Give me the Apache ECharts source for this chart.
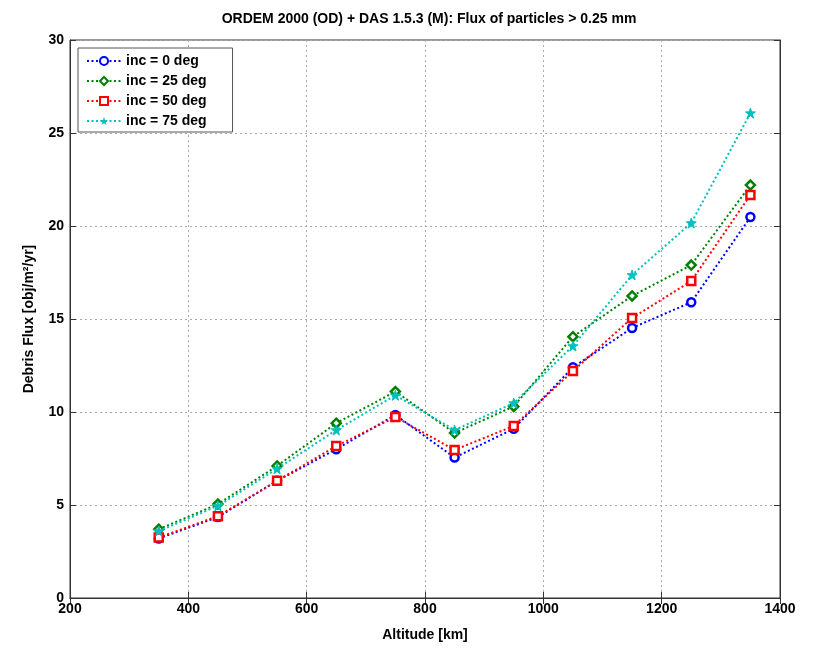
<!DOCTYPE html>
<html><head><meta charset="utf-8">
<script src="https://cdn.jsdelivr.net/npm/echarts@6/dist/echarts.min.js"></script>
<style>html,body{margin:0;padding:0;background:#fff}#c{width:815px;height:653px}</style>
</head><body><div id="c"></div>
<script>
const altitudes = [350, 450, 550, 650, 750, 850, 950, 1050, 1150, 1250, 1350];
const inc0  = [3.2, 4.35, 6.3, 8.0, 9.84, 7.55, 9.1, 12.4, 14.52, 15.9, 20.48];
const inc25 = [3.7, 5.05, 7.1, 9.4, 11.1, 8.87, 10.3, 14.05, 16.24, 17.9, 22.2];
const inc50 = [3.25, 4.4, 6.3, 8.17, 9.73, 7.96, 9.25, 12.2, 15.05, 17.04, 21.67];
const inc75 = [3.6, 4.95, 6.95, 9.03, 10.9, 9.03, 10.48, 13.55, 17.37, 20.16, 26.07];
const seriesNames = ['inc = 0 deg', 'inc = 25 deg', 'inc = 50 deg', 'inc = 75 deg'];
const seriesColors = ['#0000ff', '#008000', '#ff0000', '#00bfbf'];
const xTicks = [200, 400, 600, 800, 1000, 1200, 1400];
const yTicks = [0, 5, 10, 15, 20, 25, 30];

const star = 'path://M50,0 L61.8,35.1 L98.9,35.5 L69.1,57.6 L80.3,93.0 L50,71.5 L19.7,93.0 L30.9,57.6 L1.1,35.5 L38.2,35.1 Z';
const font = 'Liberation Sans, Arial, sans-serif';
const values = [inc0, inc25, inc50, inc75];
const symbols = ['circle', 'diamond', 'rect', star];
const sizes = [8, 9, 8, 10];

const series = values.map((v, i) => ({
  name: seriesNames[i],
  type: 'line',
  data: altitudes.map((a, j) => [a, v[j]]),
  symbol: symbols[i],
  symbolSize: sizes[i],
  showAllSymbol: true,
  color: seriesColors[i],
  lineStyle: { type: [2, 2.5], width: 2, color: seriesColors[i] },
  itemStyle: i < 3 ? { color: '#fff', borderColor: seriesColors[i], borderWidth: 2.5 }
             : { color: seriesColors[i], borderColor: seriesColors[i] },
  emphasis: { disabled: true },
  animation: false,
  z: 3 + i
}));

const axisText = { color: '#000', fontFamily: font, fontWeight: 'bold', fontSize: 14 };
const chart = echarts.init(document.getElementById('c'));
chart.setOption({
  backgroundColor: '#fff',
  animation: false,
  title: {
    text: 'ORDEM 2000 (OD) + DAS 1.5.3 (M): Flux of particles > 0.25 mm',
    left: 424, top: 7, textAlign: 'center',
    textStyle: { fontFamily: font, fontWeight: 'bold', fontSize: 14, color: '#000' }
  },
  legend: {
    orient: 'vertical', left: 78, top: 48,
    padding: [6, 26, 4, 8], itemGap: 6, itemWidth: 34, itemHeight: 10,
    backgroundColor: '#fff', borderColor: '#555', borderWidth: 1,
    textStyle: { fontFamily: font, fontWeight: 'bold', fontSize: 14, color: '#000' },
    selectedMode: false,
    data: seriesNames
  },
  grid: { left: 70, right: 35, top: 40, bottom: 55, show: true, borderColor: '#333', borderWidth: 1 },
  xAxis: [{
    type: 'value', min: 200, max: 1400, interval: 200,
    name: 'Altitude [km]', nameLocation: 'middle', nameGap: 30,
    nameTextStyle: axisText,
    axisLine: { show: true, lineStyle: { color: '#333' } },
    axisTick: { show: true, inside: true, length: 6, lineStyle: { color: '#333' } },
    axisLabel: Object.assign({ margin: 4, formatter: v => String(v) }, axisText),
    splitLine: { show: true, lineStyle: { type: [2, 3], color: '#aaa' } }
  }, {
    type: 'value', min: 200, max: 1400, interval: 200, position: 'top',
    axisLine: { show: true, lineStyle: { color: '#333' } },
    axisTick: { show: true, inside: true, length: 6, lineStyle: { color: '#333' } },
    axisLabel: { show: false }, splitLine: { show: false }
  }],
  yAxis: [{
    type: 'value', min: 0, max: 30, interval: 5,
    name: 'Debris Flux [obj/m²/yr]', nameLocation: 'middle', nameGap: 34,
    nameTextStyle: axisText,
    axisLine: { show: true, lineStyle: { color: '#333' } },
    axisTick: { show: true, inside: true, length: 6, lineStyle: { color: '#333' } },
    axisLabel: Object.assign({ margin: 6 }, axisText),
    splitLine: { show: true, lineStyle: { type: [2, 3], color: '#aaa' } }
  }, {
    type: 'value', min: 0, max: 30, interval: 5, position: 'right',
    axisLine: { show: true, lineStyle: { color: '#333' } },
    axisTick: { show: true, inside: true, length: 6, lineStyle: { color: '#333' } },
    axisLabel: { show: false }, splitLine: { show: false }
  }],
  series: series
});
</script>
</body></html>
